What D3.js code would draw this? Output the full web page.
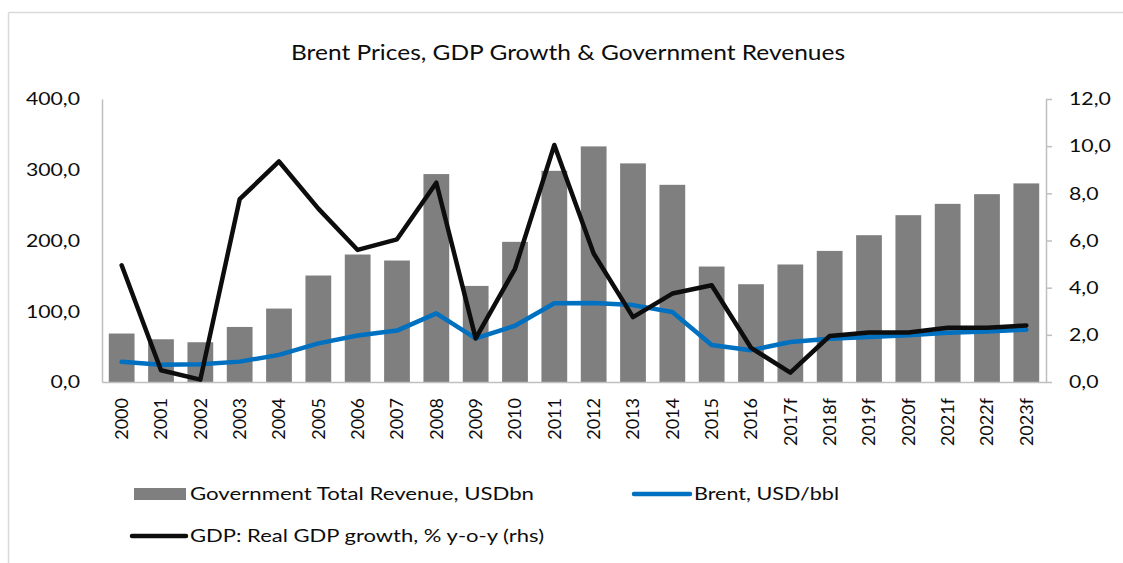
<!DOCTYPE html>
<html>
<head>
<meta charset="utf-8">
<script src="https://cdn.jsdelivr.net/npm/d3@7"></script>
<style>
  body { margin: 0; background: #fff; }
  text { font-family: Lato, "Open Sans", sans-serif; fill: #0d0d0d; }
</style>
</head>
<body>
<svg id="chart" width="1123" height="563"></svg>
<script>
// data
const years = ["2000", "2001", "2002", "2003", "2004", "2005", "2006", "2007", "2008", "2009",
  "2010", "2011", "2012", "2013", "2014", "2015", "2016", "2017f", "2018f", "2019f",
  "2020f", "2021f", "2022f", "2023f"];
const revenue = [68.5, 60.4, 56.2, 77.8, 103.8, 150.5, 180.2, 171.7, 293.9, 135.8,
  198.1, 298.5, 333.0, 309.0, 278.7, 163.2, 138.2, 166.1, 185.3, 207.5,
  235.8, 251.8, 265.5, 280.7];
const brent = [28.5, 24.4, 25.0, 28.8, 38.3, 54.6, 65.7, 72.7, 97.0, 61.7,
  79.5, 111.3, 111.7, 108.7, 99.0, 52.4, 45.0, 56.5, 61.0, 63.5,
  66.0, 69.5, 71.5, 74.0];
const gdp = [4.95, 0.5, 0.1, 7.75, 9.35, 7.35, 5.6, 6.05, 8.45, 1.85,
  4.8, 10.05, 5.45, 2.75, 3.75, 4.1, 1.45, 0.4, 1.95, 2.1,
  2.1, 2.3, 2.3, 2.4];
const leftTicks = [0, 100, 200, 300, 400];
const rightTicks = [0, 2, 4, 6, 8, 10, 12];
const title = "Brent Prices, GDP Growth & Government Revenues";
const legendItems = [
  { label: "Government Total Revenue, USDbn", type: "bar" },
  { label: "Brent, USD/bbl", type: "brent" },
  { label: "GDP: Real GDP growth, % y-o-y (rhs)", type: "gdp" },
];

const colors = { bar: "#7f7f7f", brent: "#0070c0", gdp: "#0d0d0d", axis: "#bfbfbf" };
const plot = { left: 102, right: 1046, top: 99, bottom: 382 };

const svg = d3.select("#chart");

// the reference is stretched sideways, so horizontal text gets widened
function widen(sel, k) {
  sel.each(function () {
    const w = this.getComputedTextLength();
    d3.select(this).attr("textLength", w * k).attr("lengthAdjust", "spacingAndGlyphs");
  });
}

// outer frame (only top and left edges show)
svg.append("line").attr("x1", 8.5).attr("x2", 1123).attr("y1", 12.5).attr("y2", 12.5)
  .attr("stroke", "#d9d9d9").attr("stroke-width", 1.5);
svg.append("line").attr("x1", 8.5).attr("x2", 8.5).attr("y1", 12.5).attr("y2", 563)
  .attr("stroke", "#d9d9d9").attr("stroke-width", 1.5);

var x = d3.scaleBand().domain(years).range([plot.left, plot.right])
  .paddingInner(0.345).paddingOuter(0.1725);
var xPoint = (d) => x(d) + x.bandwidth() / 2;
var yLeft = d3.scaleLinear().domain([0, 400]).range([plot.bottom, plot.top]);
var yRight = d3.scaleLinear().domain([0, 12]).range([plot.bottom, plot.top]);

// bars
svg.append("g").selectAll("rect")
  .data(years)
  .join("rect")
  .attr("x", (d) => x(d))
  .attr("width", x.bandwidth())
  .attr("y", (d, i) => yLeft(revenue[i]))
  .attr("height", (d, i) => plot.bottom - yLeft(revenue[i]))
  .attr("fill", colors.bar);

// axes
const fmt = (d) => d.toFixed(1).replace(".", ",");

const gLeft = svg.append("g")
  .attr("transform", `translate(${plot.left},0)`)
  .call(d3.axisLeft(yLeft).tickValues(leftTicks).tickFormat(fmt).tickSize(0).tickPadding(22));
gLeft.select(".domain").attr("stroke", colors.axis).attr("stroke-width", 1.5);
gLeft.selectAll("text").style("font-size", "18px");
widen(gLeft.selectAll("text"), 1.18);

const gRight = svg.append("g")
  .attr("transform", `translate(${plot.right},0)`)
  .call(d3.axisRight(yRight).tickValues(rightTicks).tickFormat(fmt)
    .tickSize(6).tickSizeOuter(0).tickPadding(17));
gRight.select(".domain").attr("stroke", colors.axis).attr("stroke-width", 1.5);
gRight.selectAll(".tick line").attr("stroke", colors.axis).attr("stroke-width", 1.5);
gRight.selectAll("text").style("font-size", "18px");
widen(gRight.selectAll("text"), 1.18);

const gBottom = svg.append("g")
  .attr("transform", `translate(0,${plot.bottom})`)
  .call(d3.axisBottom(x).tickSize(0).tickSizeOuter(0));
gBottom.select(".domain").attr("stroke", colors.axis).attr("stroke-width", 1.5);
gBottom.selectAll("text")
  .attr("transform", "rotate(-90)")
  .attr("x", -16)
  .attr("y", 0)
  .attr("dy", "0.36em")
  .style("text-anchor", "end")
  .style("font-size", "18px");

// lines
const brentLine = d3.line().x((d, i) => xPoint(years[i])).y((d) => yLeft(d));
const gdpLine = d3.line().x((d, i) => xPoint(years[i])).y((d) => yRight(d));

svg.append("path").datum(brent)
  .attr("d", brentLine)
  .attr("fill", "none")
  .attr("stroke", colors.brent)
  .attr("stroke-width", 4.5)
  .attr("stroke-linejoin", "round")
  .attr("stroke-linecap", "round");

svg.append("path").datum(gdp)
  .attr("d", gdpLine)
  .attr("fill", "none")
  .attr("stroke", colors.gdp)
  .attr("stroke-width", 4.5)
  .attr("stroke-linejoin", "round")
  .attr("stroke-linecap", "round");

// title
const titleText = svg.append("text")
  .attr("x", 568)
  .attr("y", 60)
  .style("text-anchor", "middle")
  .style("font-size", "22px")
  .text(title);
titleText.attr("textLength", 554).attr("lengthAdjust", "spacingAndGlyphs");

// legend
const legendPos = [
  { x: 134, y: 494, w: 52, textLen: 344 },
  { x: 634, y: 494, w: 56, textLen: 145 },
  { x: 132, y: 536, w: 54, textLen: 354 },
];
const legend = svg.append("g").attr("class", "legend");
legendItems.forEach(function (item, i) {
  var p = legendPos[i];
  var g = legend.append("g");
  if (item.type === "bar") {
    g.append("rect").attr("x", p.x).attr("y", p.y - 6).attr("width", p.w).attr("height", 12)
      .attr("fill", colors.bar);
  } else {
    g.append("line").attr("x1", p.x).attr("x2", p.x + p.w).attr("y1", p.y).attr("y2", p.y)
      .attr("stroke", colors[item.type]).attr("stroke-width", 4.5).attr("stroke-linecap", "round");
  }
  g.append("text")
    .attr("x", p.x + p.w + 4)
    .attr("y", p.y)
    .attr("dy", "0.35em")
    .style("font-size", "18px")
    .attr("textLength", p.textLen)
    .attr("lengthAdjust", "spacingAndGlyphs")
    .text(item.label);
});
</script>
</body>
</html>
